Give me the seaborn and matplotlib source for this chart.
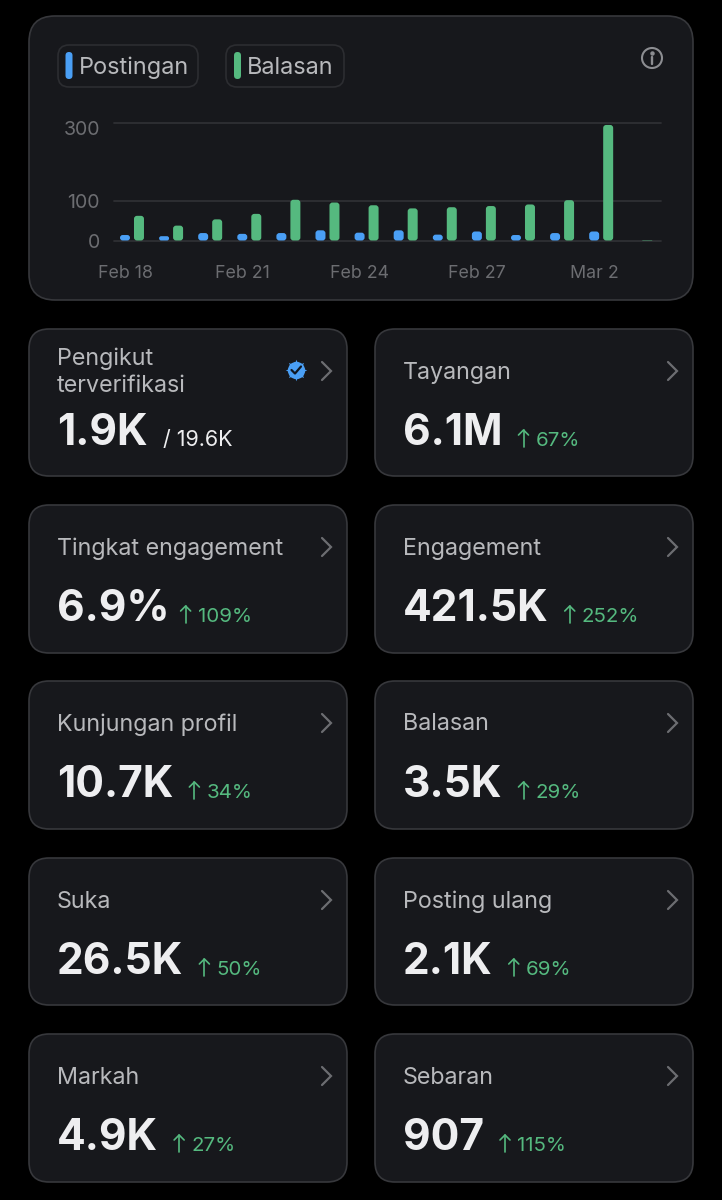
import matplotlib
matplotlib.use("Agg")
import matplotlib.pyplot as plt
import pandas as pd
import seaborn as sns
from matplotlib.patches import Circle, FancyBboxPatch
from matplotlib.transforms import ScaledTranslation

days = ["Feb 18", "Feb 19", "Feb 20", "Feb 21", "Feb 22", "Feb 23", "Feb 24",
        "Feb 25", "Feb 26", "Feb 27", "Feb 28", "Mar 1", "Mar 2", "Mar 3"]
postingan = [14, 11, 19, 17, 19, 26, 20, 26, 15, 23, 14, 19, 23, 0]
balasan = [63, 38, 54, 68, 104, 97, 90, 82, 85, 88, 92, 103, 295, 1]
date_ticks = ["Feb 18", "Feb 21", "Feb 24", "Feb 27", "Mar 2"]
y_ticks = [0, 100, 300]

card_titles = ["Tayangan", "Tingkat engagement", "Engagement", "Kunjungan profil",
               "Balasan", "Suka", "Posting ulang", "Markah", "Sebaran"]
card_values = ["6.1M", "6.9%", "421.5K", "10.7K", "3.5K", "26.5K", "2.1K", "4.9K", "907"]
card_deltas = ["67%", "109%", "252%", "34%", "29%", "50%", "69%", "27%", "115%"]

BG = "#000000"
CARD = "#17181c"
EDGE = "#37383c"
BLUE = "#4a9ff5"
GREEN = "#55b97f"
LABEL = "#b8b9bc"
WHITE = "#eeeef0"
MUTED = "#6c6d71"

sns.set_theme(style="dark")
plt.rcParams["font.family"] = ["Inter", "DejaVu Sans"]

fig = plt.figure(figsize=(7.22, 12), dpi=100, facecolor=BG)

# whole page in pixel coordinates, for the cards and their text
page = fig.add_axes([0, 0, 1, 1])
page.set_xlim(0, 722)
page.set_ylim(1200, 0)
page.axis("off")


def rounded_box(x0, y0, x1, y1, r, face, edge, lw=1.2):
    page.add_patch(FancyBboxPatch((x0, y0), x1 - x0, y1 - y0,
                                  boxstyle=f"round,pad=0,rounding_size={r}",
                                  fc=face, ec=edge, lw=lw))


def px(size):
    return size * 0.72


def chevron(right, top):
    page.plot([right - 25, right - 16, right - 25], [top + 33, top + 42, top + 51],
              color=MUTED, lw=1.6, solid_capstyle="round", solid_joinstyle="miter")


def up_arrow(x, top):
    page.plot([x, x], [top + 101, top + 117.5], color=GREEN, lw=1.2)
    page.plot([x - 5, x, x + 5], [top + 106, top + 101, top + 106], color=GREEN, lw=1.2)


# chart card
rounded_box(29, 16, 693, 300, 26, CARD, EDGE)
rounded_box(58, 45, 198, 87, 11, CARD, "#2c2d31")
rounded_box(226, 45, 344, 87, 11, CARD, "#2c2d31")
rounded_box(65.5, 52, 72.5, 79, 3.5, BLUE, "none", lw=0)
rounded_box(234, 52, 241, 79, 3.5, GREEN, "none", lw=0)
page.text(79, 68, "Postingan", color=LABEL, fontsize=px(23.5), va="center")
page.text(247, 68, "Balasan", color=LABEL, fontsize=px(23.5), va="center")

# info icon
page.add_patch(Circle((652, 58), 10, fc="none", ec="#8c8d91", lw=1.5))
page.plot([652, 652], [57, 63.5], color="#8c8d91", lw=1.7, solid_capstyle="round")
page.plot([652], [52.8], "o", color="#8c8d91", ms=2.2)

# bars
ax = fig.add_axes([114 / 722, 1 - 240.5 / 1200, (661 - 114) / 722, (240.5 - 123) / 1200])
df = pd.DataFrame({"day": days * 2,
                   "count": postingan + balasan,
                   "series": ["Postingan"] * len(days) + ["Balasan"] * len(days)})
sns.barplot(data=df, x="day", y="count", hue="series", hue_order=["Postingan", "Balasan"],
            palette={"Postingan": BLUE, "Balasan": GREEN}, width=0.716, gap=0.286,
            legend=False, ax=ax, errorbar=None, saturation=1)
ax.set_facecolor("none")
ax.set_xlim(-0.46, 13.53)
ax.set_ylim(0, 300)
ax.set_xlabel("")
ax.set_ylabel("")
sns.despine(ax=ax, left=True, bottom=True)

# round the corners of the seaborn bars, keeping their geometry
x_per_px = (13.53 + 0.46) / 547
y_per_px = 300 / 117.5
for bar in list(ax.patches):
    x, y, w, h = bar.get_x(), bar.get_y(), bar.get_width(), bar.get_height()
    color = bar.get_facecolor()
    bar.remove()
    if h <= 0:
        continue
    radius = min(3, h / y_per_px / 2)
    ax.add_patch(FancyBboxPatch((x, y), w, h,
                                boxstyle=f"round,pad=0,rounding_size={radius * x_per_px}",
                                mutation_aspect=y_per_px / x_per_px,
                                fc=color, ec="none", zorder=3))

ax.set_yticks(y_ticks)
ax.set_yticklabels([str(v) for v in y_ticks], color=MUTED, fontsize=px(19.5))
ax.set_xticks([days.index(d) - 0.179 for d in date_ticks])
ax.set_xticklabels(date_ticks, color=MUTED, fontsize=px(17.8))
ax.tick_params(axis="x", length=0, pad=18)
ax.tick_params(axis="y", length=0, pad=10)
ax.grid(axis="y", color="#2f3034", lw=1.3)
ax.grid(axis="x", visible=False)
ax.set_axisbelow(True)
for line in ax.get_ygridlines():
    line.set_clip_on(False)
ax.get_yticklabels()[2].set_transform(
    ax.get_yticklabels()[2].get_transform() + ScaledTranslation(0, -5 / 100, fig.dpi_scale_trans))

# metric cards
col_x = [(29, 347), (375, 693)]
row_y = [(329, 476), (505, 653), (681, 829), (858, 1005), (1034, 1182)]
renderer = fig.canvas.get_renderer()


def big_number(x, top, text):
    return page.text(x, top + 116, text, color=WHITE, fontsize=px(42.5), fontweight="bold",
                     va="baseline")


# first card is the verified followers one
x0, x1 = col_x[0]
top, bottom = row_y[0]
rounded_box(x0, top, x1, bottom, 20, CARD, EDGE)
page.text(57, 358.5, "Pengikut", color=LABEL, fontsize=px(23.3), va="center")
page.text(57, 385.5, "terverifikasi", color=LABEL, fontsize=px(23.3), va="center")
big_number(57, top, "1.9K")
page.text(163, top + 117, "/ 19.6K", color=WHITE, fontsize=px(21.5), va="baseline")
page.plot([296], [370], marker=(8, 1, 0), color=BLUE, ms=15.5, mew=0)
page.plot([296], [370], "o", color=BLUE, ms=12.5, mew=0)
page.plot([291.5, 295, 301], [370, 373.5, 366.5], color="#0f1722", lw=1.6)
chevron(x1, top)

slots = [(c, r) for r in range(5) for c in range(2)][1:]
for title, value, delta, (c, r) in zip(card_titles, card_values, card_deltas, slots):
    x0, x1 = col_x[c]
    top, bottom = row_y[r]
    rounded_box(x0, top, x1, bottom, 20, CARD, EDGE)
    page.text(x0 + 28, top + 43.5, title, color=LABEL, fontsize=px(23.3), va="center")
    big = big_number(x0 + 28, top, value)
    end = page.transData.inverted().transform(big.get_window_extent(renderer))[1][0]
    # the % sign comes out wider here than in the reference
    if value.endswith("%"):
        end -= 5
    up_arrow(end + 21, top)
    page.text(end + 33, top + 117, delta, color=GREEN, fontsize=px(20.5), va="baseline")
    chevron(x1, top)

fig.savefig("out.png", dpi=100, facecolor=BG)
